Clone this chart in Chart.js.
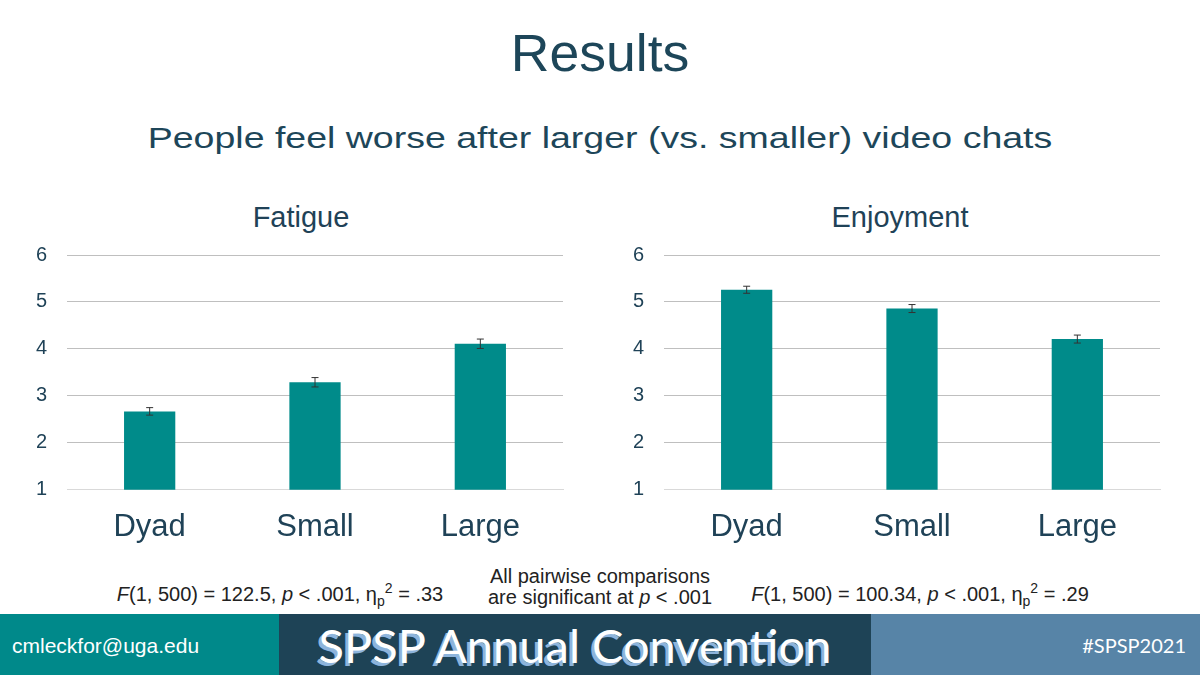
<!DOCTYPE html>
<html>
<head>
<meta charset="utf-8">
<script src="https://cdn.jsdelivr.net/npm/chart.js@4/dist/chart.umd.min.js"></script>
<style>
  body { margin: 0; width: 1200px; height: 675px; background: #fff; position: relative; overflow: hidden; font-family: "Liberation Sans", Arial, sans-serif; color: #1f4257; }
  .abs { position: absolute; }
  #title { left: 0; width: 1200px; top: 24px; text-align: center; font-size: 51px; color: #1d4659; transform: scaleX(1.05); }
  #subtitle { left: 0; width: 1200px; top: 121px; text-align: center; font-size: 30px; color: #1d4659; transform: scaleX(1.25); }
  .panelTitle { top: 201px; width: 300px; text-align: center; font-size: 29px; color: #1f4257; }
  .stat { font-size: 20px; color: #222; text-align: center; line-height: 21px; }
  #fatigueBox { left: 0; top: 190px; width: 580px; height: 375px; }
  #enjoyBox { left: 600px; top: 190px; width: 580px; height: 375px; }
  .band { top: 614px; height: 61px; }
  #bandLeft { left: 0; width: 279px; background: #00898a; }
  #bandMid { left: 279px; width: 592px; background: #1e4356; }
  #bandRight { left: 871px; width: 329px; background: #5784a7; }
  #email { left: 12px; top: 634px; font-size: 21px; color: #fff; }
  #conv { left: 279px; width: 592px; top: 617px; text-align: center; font-family: Lato, "Open Sans", sans-serif; font-size: 47px; color: #fff; text-shadow: -3px 3px 0 #8db4dc; }
  #tag { right: 14px; top: 633px; font-family: Lato, "Open Sans", sans-serif; font-size: 20px; color: #fff; }
</style>
</head>
<body>
<div id="title" class="abs">Results</div>
<div id="subtitle" class="abs">People feel worse after larger (vs. smaller) video chats</div>

<div class="abs panelTitle" style="left:151px;">Fatigue</div>
<div class="abs panelTitle" style="left:750px;">Enjoyment</div>
<div id="fatigueBox" class="abs"><canvas id="fatigue"></canvas></div>
<div id="enjoyBox" class="abs"><canvas id="enjoy"></canvas></div>

<div class="abs stat" style="left:80px; width:400px; top:578px;"><i>F</i>(1, 500) = 122.5, <i>p</i> &lt; .001, η<sub style="font-size:14px">p</sub><sup style="font-size:14px">2</sup> = .33</div>
<div class="abs stat" style="left:450px; width:300px; top:566px;">All pairwise comparisons<br>are significant at <i>p</i> &lt; .001</div>
<div class="abs stat" style="left:720px; width:400px; top:578px;"><i>F</i>(1, 500) = 100.34, <i>p</i> &lt; .001, η<sub style="font-size:14px">p</sub><sup style="font-size:14px">2</sup> = .29</div>

<div id="bandLeft" class="abs band"></div>
<div id="bandMid" class="abs band"></div>
<div id="bandRight" class="abs band"></div>
<div id="email" class="abs">cmleckfor@uga.edu</div>
<div id="conv" class="abs">SPSP Annual Convention</div>
<div id="tag" class="abs">#SPSP2021</div>

<script>
const groups = ['Dyad', 'Small', 'Large']
const fatigueMeans = [2.67, 3.29, 4.11]
const fatigueErr = [0.08, 0.1, 0.1]
const enjoyMeans = [5.26, 4.86, 4.21]
const enjoyErr = [0.075, 0.085, 0.085]
const yTicks = [1, 2, 3, 4, 5, 6]

const textColor = '#1f4257'
const barColor = '#008b8a'

// draws the little I-shaped error bars on top of each bar
const errorBars = {
    id: 'errorBars',
    afterDatasetsDraw(chart) {
        const errs = chart.options.plugins.errorBars.values
        const yScale = chart.scales.y
        const ctx = chart.ctx
        const meta = chart.getDatasetMeta(0)
        const vals = chart.data.datasets[0].data
        ctx.save()
        ctx.strokeStyle = '#333'
        ctx.lineWidth = 1
        meta.data.forEach((bar, i) => {
            const top = yScale.getPixelForValue(vals[i] + errs[i])
            const bot = yScale.getPixelForValue(vals[i] - errs[i])
            ctx.beginPath()
            ctx.moveTo(bar.x, top); ctx.lineTo(bar.x, bot)
            ctx.moveTo(bar.x - 3.5, top); ctx.lineTo(bar.x + 3.5, top)
            ctx.moveTo(bar.x - 3.5, bot); ctx.lineTo(bar.x + 3.5, bot)
            ctx.stroke()
        })
        ctx.restore()
    }
}

function makeChart(id, means, errs, axisWidth, padRight) {
    return new Chart(document.getElementById(id), {
        type: 'bar',
        data: {
            labels: groups,
            datasets: [{ data: means, backgroundColor: barColor, barPercentage: 0.31, categoryPercentage: 1 }]
        },
        options: {
            responsive: true,
            maintainAspectRatio: false,
            animation: false,
            layout: { padding: { left: 0, right: padRight, top: 65, bottom: 0 } },
            plugins: {
                legend: { display: false },
                tooltip: { enabled: false },
                errorBars: { values: errs }
            },
            scales: {
                x: {
                    grid: { display: false, drawTicks: false },
                    border: { color: '#d9d9d9' },
                    ticks: { color: textColor, font: { family: 'Liberation Sans', size: 31 }, padding: 19 }
                },
                y: {
                    min: 1, max: 6,
                    afterBuildTicks: (s) => { s.ticks = yTicks.map(v => ({ value: v })) },
                    afterFit: (s) => { s.width = axisWidth },
                    grid: { color: '#bfbfbf', drawTicks: false },
                    border: { display: false },
                    ticks: { color: textColor, font: { family: 'Liberation Sans', size: 20 }, padding: 20 }
                }
            }
        },
        plugins: [errorBars]
    })
}

makeChart('fatigue', fatigueMeans, fatigueErr, 67, 17)
makeChart('enjoy', enjoyMeans, enjoyErr, 64, 20)
</script>
</body>
</html>
